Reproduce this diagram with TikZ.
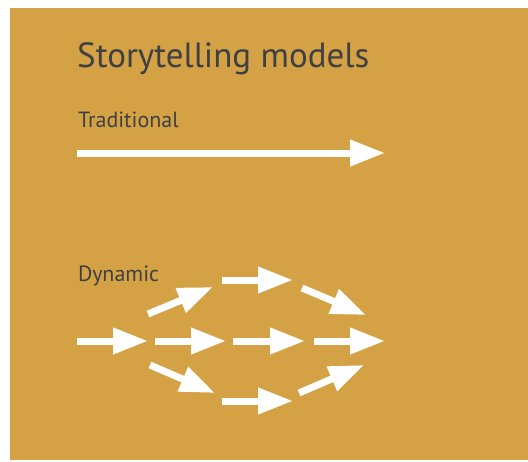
\documentclass[tikz,border=0pt]{standalone}
\usepackage{fontspec}
\setmainfont{PT Sans}
\usetikzlibrary{arrows.meta}
\definecolor{gold}{RGB}{212,162,68}
\definecolor{ink}{RGB}{62,64,67}
\tikzset{
    arrow/.style ={
        draw=white,
        line width=7pt,
        -{Triangle[length=35pt,width=25pt]}
    },
    title/.style ={
        anchor=base west,
        inner sep=0pt,
        text=ink,
        font=\fontsize{35}{35}\selectfont
    },
    subhead/.style ={
        anchor=base west,
        inner sep=0pt,
        text=ink,
        font=\fontsize{22}{22}\selectfont
    }
}

\begin{document}
\begin{tikzpicture}[x=1pt,y=-1pt]
    \useasboundingbox (0,0) rectangle (528,461);
    \fill[gold] (10,8) rectangle (528,460);
    \node[title] (head) at(77,67) {Storytelling models};
    \node[subhead] (trad) at(78,127) {Traditional};
    \node[subhead] (dyn) at(78,281) {Dynamic};
    % single straight line
    \coordinate (t0) at(77,153);
    \coordinate (t1) at(385,153);
    \draw[arrow] (t0) -- (t1);
    % middle row
    \coordinate (m0) at(77,341);
    \coordinate (m1) at(148,341);
    \coordinate (m2) at(155,341);
    \coordinate (m3) at(226,341);
    \coordinate (m4) at(233,341);
    \coordinate (m5) at(305,341);
    \coordinate (m6) at(314,341);
    \coordinate (m7) at(385,341);
    \foreach \a/\b in {m0/m1,m2/m3,m4/m5,m6/m7}
        \draw[arrow] (\a) -- (\b);
    % upper branch
    \coordinate (u0) at(148,314);
    \coordinate (u1) at(213,287);
    \coordinate (u2) at(222,280);
    \coordinate (u3) at(293,280);
    \coordinate (u4) at(302,288);
    \coordinate (u5) at(366,315);
    % lower branch
    \coordinate (l0) at(150,365);
    \coordinate (l1) at(215,393);
    \coordinate (l2) at(222,401);
    \coordinate (l3) at(293,401);
    \coordinate (l4) at(299,393);
    \coordinate (l5) at(364,365);
    \foreach \a/\b in {u0/u1,u2/u3,u4/u5,l0/l1,l2/l3,l4/l5}
        \draw[arrow] (\a) -- (\b);
\end{tikzpicture}
\end{document}
